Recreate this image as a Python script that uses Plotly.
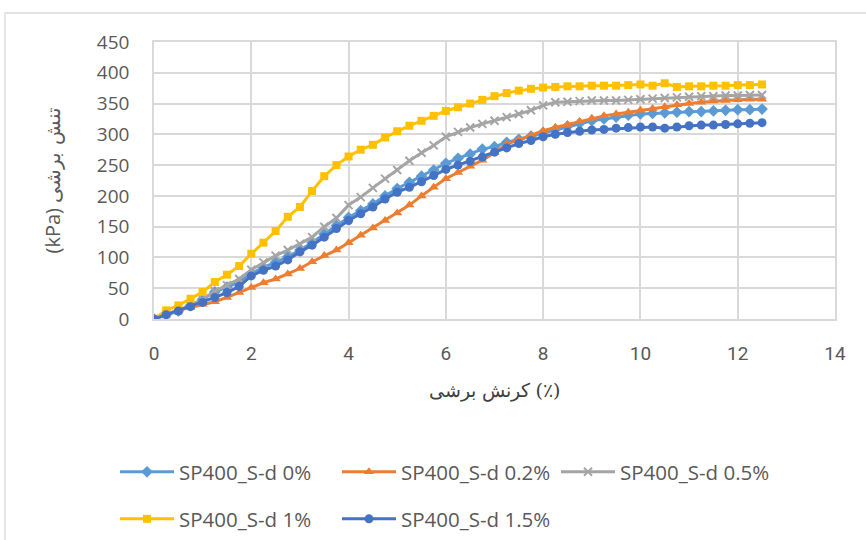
import plotly.graph_objects as go

strain = [i * 0.25 for i in range(51)]

s0 = [0, 7, 13, 22, 32, 44, 52, 60, 74, 84, 92, 101, 112, 124, 138, 152, 165, 176, 187, 200,
      212, 222, 232, 242, 253, 261, 268, 276, 280, 287, 292, 297, 303, 308, 313, 318, 322, 325,
      328, 331, 333, 334, 335, 336, 337, 337, 338, 339, 340, 340, 341]
s02 = [0, 8, 14, 19, 24, 28, 35, 43, 51, 59, 65, 73, 82, 93, 103, 112, 124, 136, 148, 160,
       172, 185, 200, 214, 228, 238, 248, 258, 270, 284, 291, 298, 306, 311, 316, 321, 326, 330,
       333, 336, 339, 342, 345, 348, 350, 352, 354, 355, 356, 357, 357]
s05 = [0, 8, 14, 22, 32, 45, 55, 65, 80, 92, 103, 112, 122, 133, 150, 164, 185, 198, 213, 228,
       242, 257, 270, 282, 296, 304, 311, 317, 322, 328, 333, 339, 347, 352, 353, 354, 355, 355,
       355, 356, 357, 358, 359, 360, 361, 362, 362, 363, 363, 364, 364]
s1 = [0, 14, 22, 33, 44, 60, 72, 86, 106, 124, 143, 166, 182, 208, 232, 250, 264, 275, 283, 295,
      305, 314, 322, 330, 338, 344, 350, 356, 362, 367, 371, 374, 376, 377, 378, 378, 379, 379,
      379, 380, 381, 379, 383, 377, 378, 378, 379, 379, 380, 380, 381]
s15 = [0, 7, 13, 20, 27, 35, 43, 53, 70, 79, 86, 96, 109, 120, 133, 147, 160, 171, 182, 195,
       206, 214, 223, 233, 243, 250, 256, 263, 271, 278, 285, 290, 296, 300, 303, 305, 307, 308,
       310, 311, 312, 312, 310, 312, 314, 315, 315, 316, 317, 318, 319]

names = ["SP400_S-d 0%", "SP400_S-d 0.2%", "SP400_S-d 0.5%", "SP400_S-d 1%", "SP400_S-d 1.5%"]
series = [s0, s02, s05, s1, s15]
colors = ["#5B9BD5", "#ED7D31", "#A5A5A5", "#FFC000", "#4472C4"]
symbols = ["diamond", "triangle-up", "x-thin", "square", "circle"]
msizes = [9, 9, 8, 8, 9]

x_ticks = [0, 2, 4, 6, 8, 10, 12, 14]
y_ticks = [0, 50, 100, 150, 200, 250, 300, 350, 400, 450]

x_title = "کرنش برشی (٪)"
y_title = "(kPa) <span style='font-family:DejaVu Serif, Liberation Serif, serif'>تنش برشی</span>"

W, H = 866, 540
L, R, T, B = 154, 31, 42, 221
PW, PH = W - L - R, H - T - B


def px(xp):
    return (xp - L) / PW


def py(yp):
    return (H - B - yp) / PH


fig = go.Figure()
legend_ids = ["legend", "legend2", "legend3", "legend4", "legend5"]
for i in range(5):
    mk = dict(symbol=symbols[i], size=msizes[i], color=colors[i])
    if symbols[i] == "x-thin":
        mk["line"] = dict(color=colors[i], width=2)
    fig.add_trace(go.Scatter(
        x=strain, y=series[i], name=names[i], mode="lines+markers",
        line=dict(color=colors[i], width=3), marker=mk,
        legend=legend_ids[i],
    ))

leg_pos = [(115, 472), (337, 472), (556, 472), (115, 519), (337, 519)]
leg_common = dict(font=dict(family="Open Sans", size=20.5, color="#595959"),
                  bgcolor="rgba(0,0,0,0)", xanchor="left", yanchor="middle",
                  orientation="h", itemwidth=54)
layout_legends = {}
for lid, (lx, ly) in zip(legend_ids, leg_pos):
    layout_legends[lid] = dict(x=px(lx), y=py(ly), **leg_common)

fig.update_layout(
    width=W, height=H,
    margin=dict(l=L, r=R, t=T, b=B, autoexpand=False),
    paper_bgcolor="white", plot_bgcolor="white",
    showlegend=True,
    xaxis=dict(range=[0, 14], tickvals=x_ticks, showgrid=True, gridcolor="#D9D9D9", gridwidth=1.5,
               zeroline=False, showline=True, linecolor="#D9D9D9", linewidth=1.5, mirror=True,
               tickfont=dict(family="Liberation Sans Narrow, Roboto", size=19, color="#595959"),
               ticks="", ticklabelstandoff=16,
               title=dict(text=x_title, standoff=20,
                          font=dict(family="DejaVu Serif, Liberation Serif", size=19, color="#404040"))),
    yaxis=dict(range=[0, 450], tickvals=y_ticks, showgrid=True, gridcolor="#D9D9D9", gridwidth=1.5,
               zeroline=False, showline=True, linecolor="#D9D9D9", linewidth=1.5, mirror=True,
               tickfont=dict(family="Open Sans", size=19, color="#595959"),
               ticks="", ticklabelstandoff=19,
               title=dict(text=y_title, standoff=31,
                          font=dict(family="Open Sans", size=20, color="#595959"))),
    shapes=[dict(type="rect", xref="paper", yref="paper",
                 x0=px(5), x1=px(875), y0=py(550), y1=py(13),
                 line=dict(color="#D9D9D9", width=1.3), layer="below")],
    **layout_legends,
)

fig.write_html("out.html")
